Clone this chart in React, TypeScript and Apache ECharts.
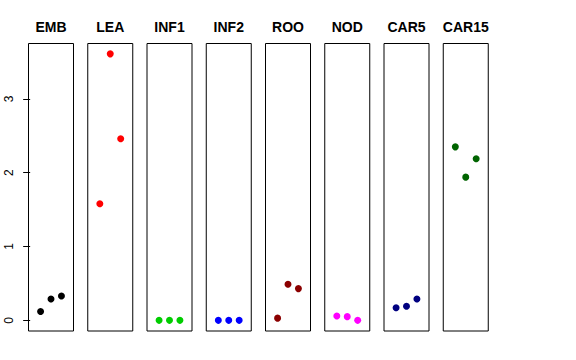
import React, { useEffect, useRef } from "react";
import * as echarts from "echarts";

const categories = ["EMB", "LEA", "INF1", "INF2", "ROO", "NOD", "CAR5", "CAR15"];
const xPositions = [1, 2, 3];
const embValues = [0.12, 0.29, 0.33];
const leaValues = [1.58, 3.61, 2.46];
const inf1Values = [0, 0, 0];
const inf2Values = [0, 0, 0];
const rooValues = [0.03, 0.49, 0.43];
const nodValues = [0.06, 0.05, 0.0];
const car5Values = [0.17, 0.19, 0.29];
const car15Values = [2.35, 1.94, 2.19];
const seriesValues = [embValues, leaValues, inf1Values, inf2Values, rooValues, nodValues, car5Values, car15Values];
const colors = ["#000000", "#FF0000", "#00CD00", "#0000FF", "#8B0000", "#FF00FF", "#000080", "#006400"];
const yTicks = [0, 1, 2, 3];
const yMin = -0.1444;
const yMax = 3.7504;
const xMin = -0.16;
const xMax = 4.16;

export default function App() {
  const ref = useRef<HTMLDivElement>(null);
  useEffect(() => {
    const chart = echarts.init(ref.current!, null, { renderer: "svg" });
    const left0 = 28.5;
    const step = 59.25;
    const w = 45;
    const top = 43.5;
    const h = 287.5;
    const grids = categories.map((_, i) => ({
      left: left0 + i * step,
      top,
      width: w,
      height: h,
      show: true,
      borderColor: "#000",
      borderWidth: 1,
      backgroundColor: "transparent",
    }));
    const xAxes = categories.map((_, i) => ({
      type: "value" as const,
      gridIndex: i,
      min: xMin,
      max: xMax,
      show: false,
    }));
    const yAxes = categories.map((_, i) => ({
      type: "value" as const,
      gridIndex: i,
      min: yMin,
      max: yMax,
      show: i === 0,
      axisLine: { show: false },
      splitLine: { show: false },
      axisTick: {
        show: i === 0,
        length: 7,
        customValues: yTicks,
        lineStyle: { color: "#000", width: 1 },
      },
      axisLabel: {
        show: i === 0,
        customValues: yTicks,
        rotate: 90,
        margin: 14,
        fontSize: 12,
        color: "#000",
        fontFamily: "Liberation Sans, Arial, sans-serif",
      },
    }));
    const series = categories.map((name, i) => ({
      type: "scatter" as const,
      name,
      xAxisIndex: i,
      yAxisIndex: i,
      symbol: "circle",
      symbolSize: 7,
      itemStyle: { color: colors[i], opacity: 1 },
      data: xPositions.map((x, j) => [x, seriesValues[i][j]]),
    }));
    chart.setOption({
      animation: false,
      backgroundColor: "#fff",
      grid: grids,
      xAxis: xAxes,
      yAxis: yAxes,
      series,
      title: categories.map((name, i) => ({
        text: name,
        left: left0 + i * step + w / 2,
        top: 20,
        textAlign: "center",
        textStyle: {
          fontSize: 14,
          fontWeight: "bold",
          color: "#000",
          fontFamily: "Liberation Sans, Arial, sans-serif",
        },
        padding: 0,
      })),
    });
    return () => chart.dispose();
  }, []);
  return (
    <div
      ref={ref}
      style={{ position: "fixed", left: 0, top: 0, width: 576, height: 360 }}
    />
  );
}
